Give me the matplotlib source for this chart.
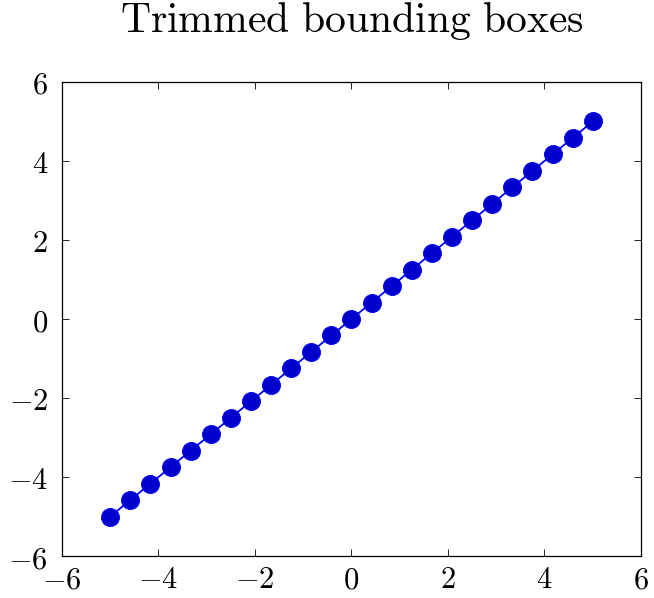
import matplotlib
matplotlib.use("Agg")
import matplotlib.pyplot as plt

plt.rcParams['mathtext.fontset'] = 'cm'
plt.rcParams['font.family'] = 'serif'
plt.rcParams['font.serif'] = ['DejaVu Serif']

# --- data ---
x_vals = [-5.0, -4.583, -4.167, -3.75, -3.333, -2.917, -2.5, -2.083, -1.667, -1.25,
          -0.833, -0.417, 0.0, 0.417, 0.833, 1.25, 1.667, 2.083, 2.5, 2.917,
          3.333, 3.75, 4.167, 4.583, 5.0]
y_vals = [-5.0, -4.583, -4.167, -3.75, -3.333, -2.917, -2.5, -2.083, -1.667, -1.25,
          -0.833, -0.417, 0.0, 0.417, 0.833, 1.25, 1.667, 2.083, 2.5, 2.917,
          3.333, 3.75, 4.167, 4.583, 5.0]
tick_vals = [-6, -4, -2, 0, 2, 4, 6]
title_text = "Trimmed bounding boxes"

fig = plt.figure(figsize=(6.54, 5.98), dpi=100)
ax = fig.add_axes([0.0948, 0.0702, 0.8853, 0.7927])

ax.plot(x_vals, y_vals, color=(0, 0, 1), lw=1.3, marker='o', markersize=13,
        markerfacecolor=(0, 0, 0.8), markeredgecolor=(0, 0, 1), markeredgewidth=0.6)

ax.set_xlim(-6, 6)
ax.set_ylim(-6, 6)
ax.set_xticks(tick_vals)
ax.set_yticks(tick_vals)
labels = [r'$%d$' % t if t >= 0 else r'$-%d$' % (-t) for t in tick_vals]
ax.set_xticklabels(labels, fontsize=22)
ax.set_yticklabels(labels, fontsize=22)
ax.tick_params(direction='in', top=True, right=True, length=5, width=0.6)
ax.tick_params(axis='x', pad=6)
ax.tick_params(axis='y', pad=10)
for s in ax.spines.values():
    s.set_linewidth(0.9)

ax.set_title(r'$\mathrm{' + title_text.replace(' ', r'\ ') + '}$', fontsize=30, pad=36)

fig.savefig("out.png", dpi=100)
